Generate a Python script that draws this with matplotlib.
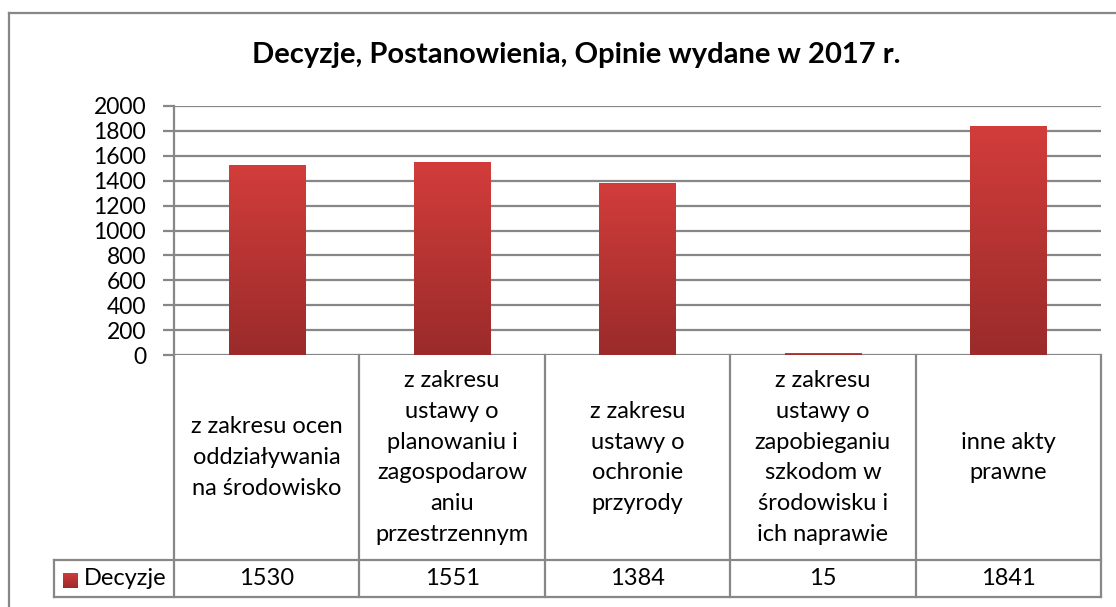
import numpy as np
import matplotlib.pyplot as plt
from matplotlib.colors import LinearSegmentedColormap
from matplotlib.transforms import blended_transform_factory

categories = [
    "z zakresu ocen\noddziaływania\nna środowisko",
    "z zakresu\nustawy o\nplanowaniu i\nzagospodarow\naniu\nprzestrzennym",
    "z zakresu\nustawy o\nochronie\nprzyrody",
    "z zakresu\nustawy o\nzapobieganiu\nszkodom w\nśrodowisku i\nich naprawie",
    "inne akty\nprawne",
]
values = [1530, 1551, 1384, 15, 1841]
series_name = "Decyzje"
yticks = list(range(0, 2001, 200))
title = "Decyzje, Postanowienia, Opinie wydane w 2017 r."

W, H = 1116, 607
plt.rcParams['font.family'] = ['Lato', 'DejaVu Sans']
grey = '#878787'
cmap = LinearSegmentedColormap.from_list('red', ['#9a2b2a', '#d23d3b'])
grad = np.linspace(0, 1, 256).reshape(-1, 1)
fs = 17

fig = plt.figure(figsize=(W / 100, H / 100), dpi=100)


def fx(px):
    return px / W


def fy(py):
    return 1 - py / H


# outer chart border (only top and left visible)
fig.add_artist(plt.Line2D([fx(9), fx(9)], [fy(13), 0], color=grey, lw=1.6))
fig.add_artist(plt.Line2D([fx(9), 1], [fy(13), fy(13)], color=grey, lw=1.6))

left, right, top, bottom = 174, 1101, 106, 355
ax = fig.add_axes([fx(left), fy(bottom), fx(right - left), (bottom - top) / H])
x = np.arange(len(values))
bars = ax.bar(x, values, width=0.41, color='#b83433', zorder=3)
for b in bars:
    x0, y0 = b.get_x(), b.get_y()
    im = ax.imshow(grad, cmap=cmap, aspect='auto', origin='lower', zorder=3,
                   extent=[x0, x0 + b.get_width(), y0, y0 + b.get_height()])
    im.set_clip_path(b)

ax.set_xlim(-0.5, len(values) - 0.5)
ax.set_ylim(0, 2000)
ax.set_yticks(yticks)
ax.set_yticklabels([str(v) for v in yticks], fontsize=16.5)
ax.set_xticks([])
ax.grid(axis='y', color=grey, lw=1.6, zorder=0)
for s in ['top', 'right', 'bottom']:
    ax.spines[s].set_visible(False)
ax.spines['left'].set_color(grey)
ax.spines['left'].set_linewidth(1.6)
ax.tick_params(axis='y', length=8, width=1.6, color=grey, pad=12)

# data table below the axis
tr = blended_transform_factory(ax.transData, fig.transFigure)
row1, row2 = fy(560), fy(597)
for i in range(len(values) + 1):
    ax.add_line(plt.Line2D([i - 0.5, i - 0.5], [fy(bottom), row2], transform=tr,
                           color=grey, lw=1.6, clip_on=False))
for yy in (row1, row2):
    fig.add_artist(plt.Line2D([fx(54), fx(right)], [yy, yy], color=grey, lw=1.6))
fig.add_artist(plt.Line2D([fx(54), fx(54)], [row1, row2], color=grey, lw=1.6))

for i, (c, v) in enumerate(zip(categories, values)):
    ax.text(i, (fy(bottom) + row1) / 2, c, transform=tr, ha='center', va='center',
            fontsize=fs, linespacing=1.58)
    ax.text(i, (row1 + row2) / 2, str(v), transform=tr, ha='center', va='center',
            fontsize=fs)

# legend key in the table
kax = fig.add_axes([fx(63), fy(588), fx(15), 15 / H])
kax.imshow(grad, cmap=cmap, aspect='auto', origin='lower', extent=[0, 1, 0, 1])
kax.axis('off')
fig.text(fx(84), (row1 + row2) / 2, series_name, ha='left', va='center', fontsize=fs)

fig.text(fx(576), fy(55), title, ha='center', va='center', fontsize=21,
         fontweight='bold')

fig.savefig('out.png', dpi=100)
